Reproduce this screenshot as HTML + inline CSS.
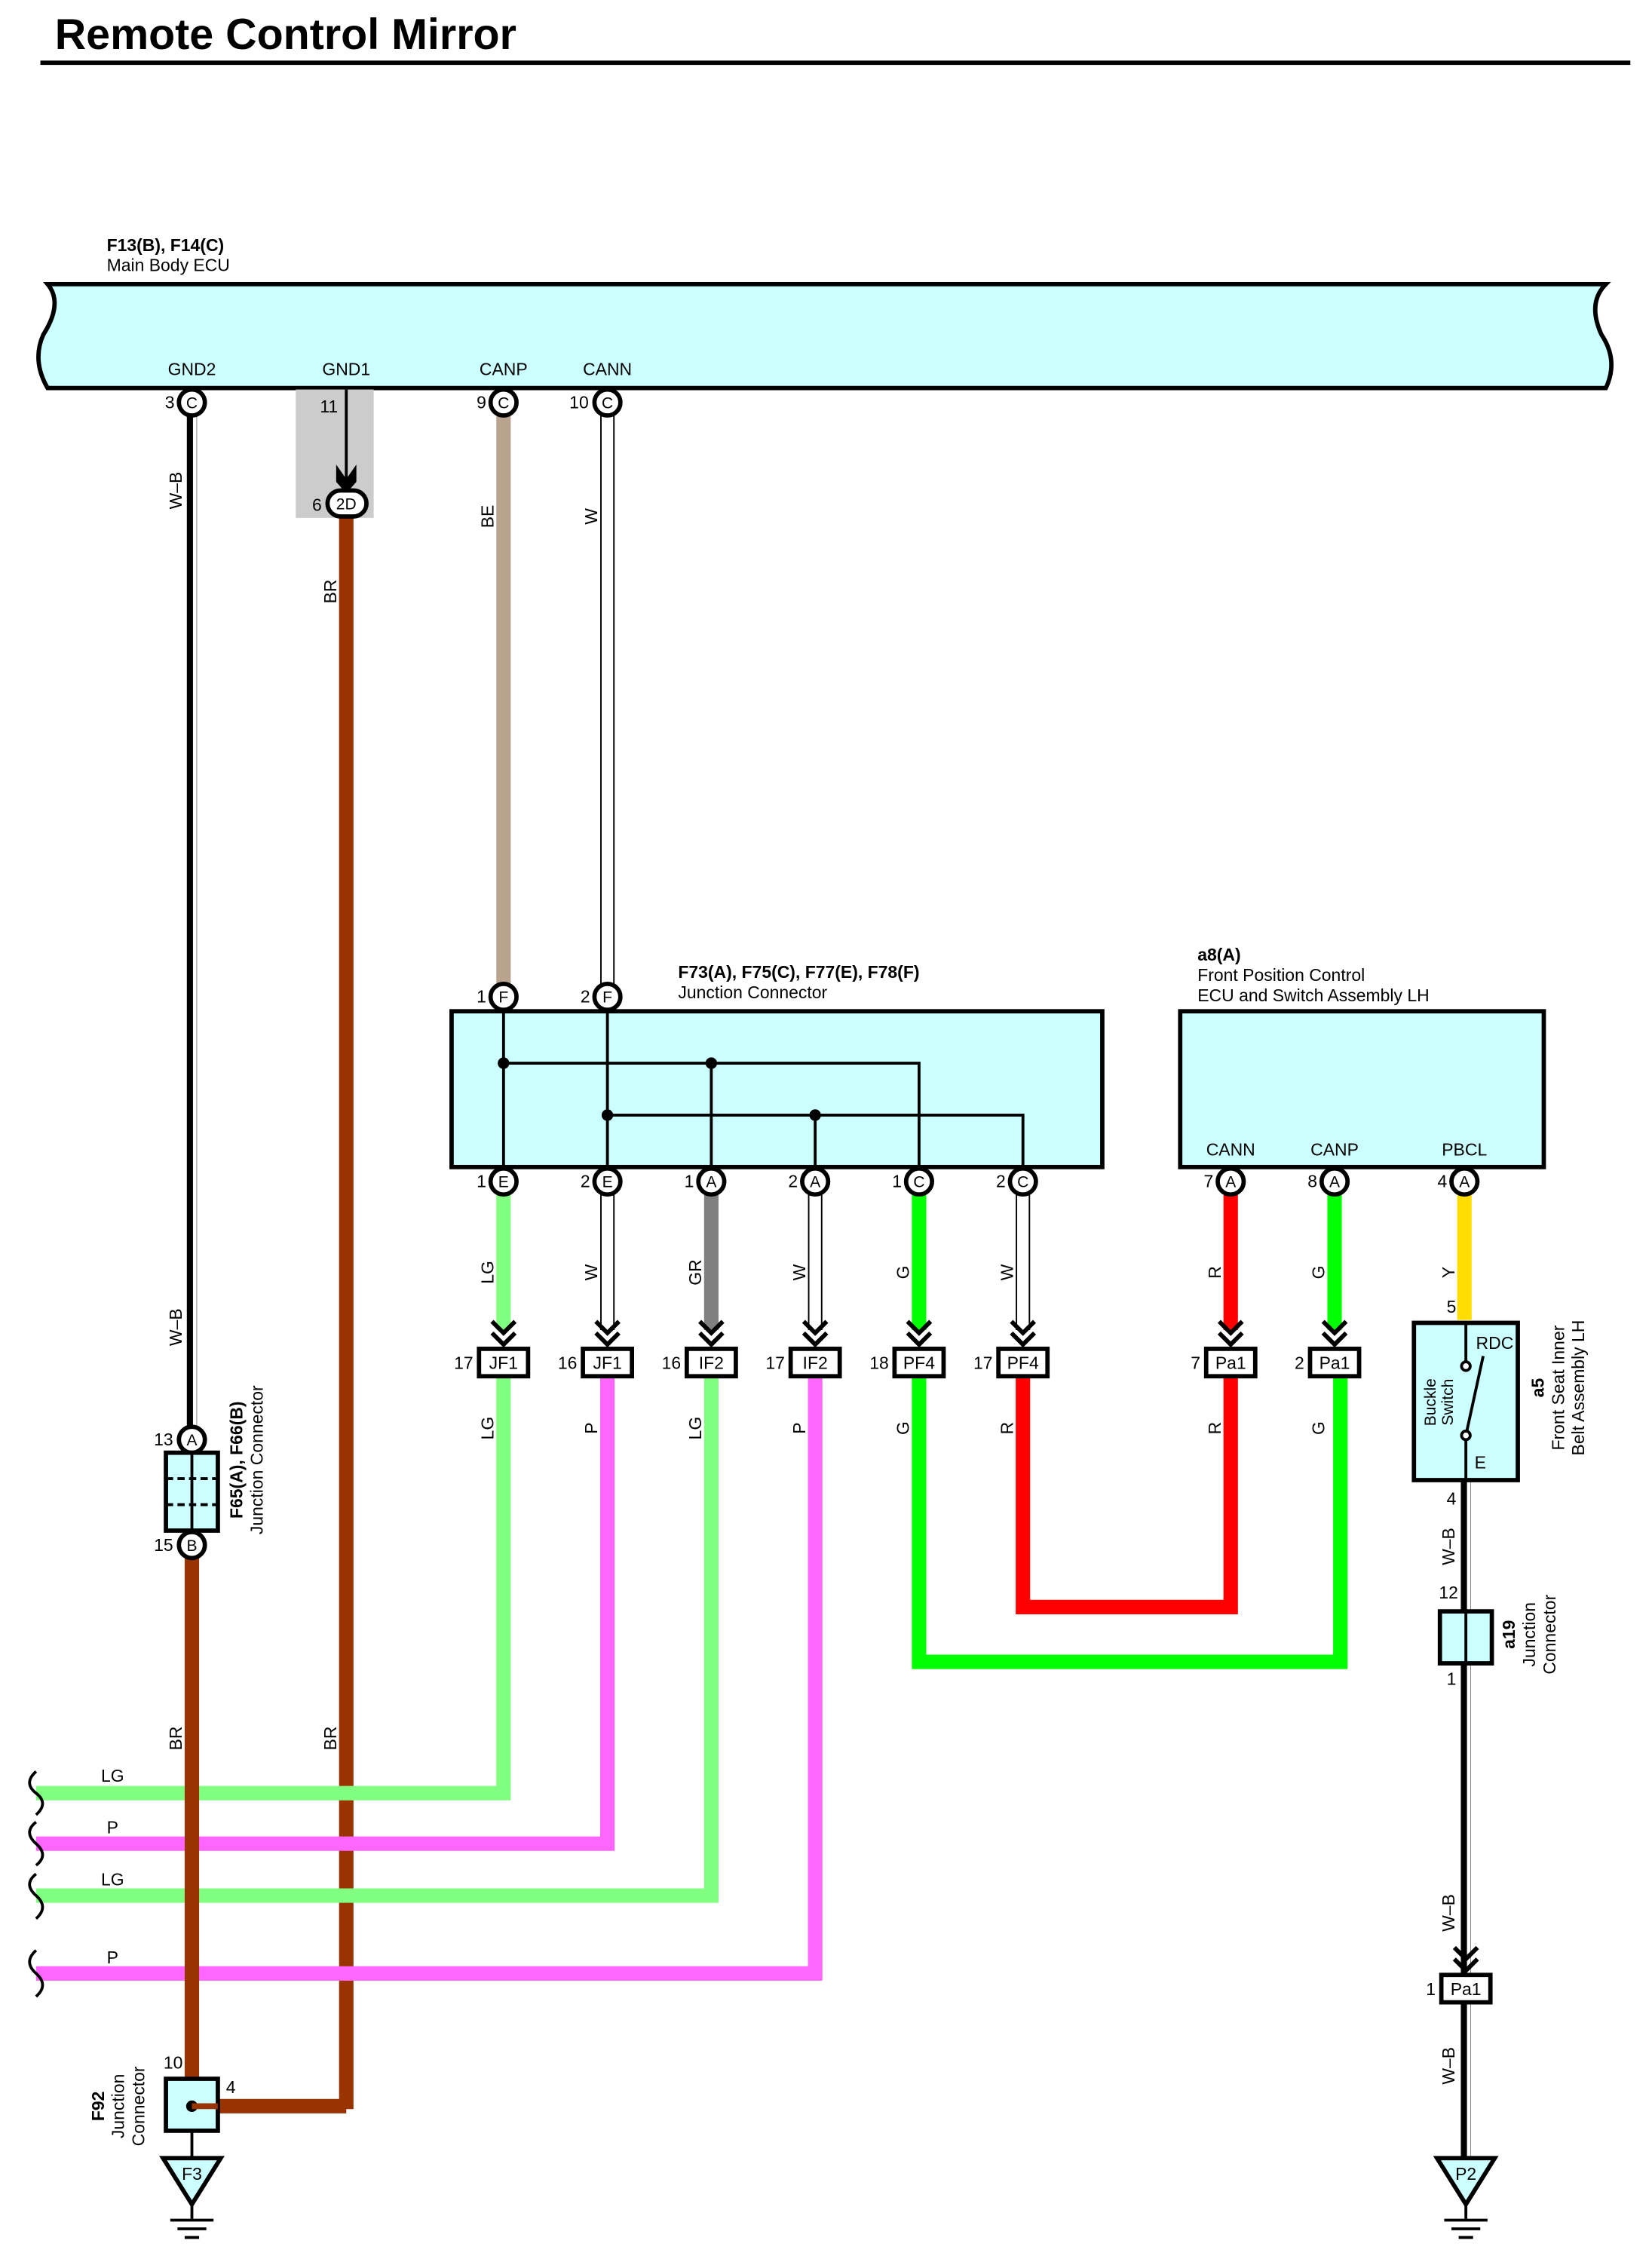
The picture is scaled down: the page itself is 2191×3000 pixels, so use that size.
<!DOCTYPE html>
<html><head><meta charset="utf-8"><style>html,body{margin:0;padding:0;background:#fff}svg{display:block}</style></head>
<body>
<svg width="2191" height="3000" viewBox="0 0 1145 1568" preserveAspectRatio="none" xmlns="http://www.w3.org/2000/svg" font-family="Liberation Sans, sans-serif">
<defs>
<g id="chev"><path d="M-8,-16 L0,-8 L8,-16 M-8,-8 L0,0 L8,-8" fill="none" stroke="#000" stroke-width="3"/></g>
</defs>
<text x="38" y="34" font-size="30" font-weight="bold">Remote Control Mirror</text>
<rect x="28" y="42" width="1102" height="3" fill="#000"/>

<text x="74" y="174" font-size="12" font-weight="bold">F13(B), F14(C)</text>
<text x="74" y="188" font-size="12">Main Body ECU</text>
<path d="M33,197 L1113,197 Q1100,210 1110,232 Q1122,250 1113,269 L33,269 Q22,250 30,232 Q44,210 33,197 Z" fill="#ccffff" stroke="#000" stroke-width="3"/>
<g font-size="12" text-anchor="middle"><text x="133" y="260">GND2</text><text x="240" y="260">GND1</text><text x="349" y="260">CANP</text><text x="421" y="260">CANN</text></g>
<rect x="205" y="270" width="54" height="89" fill="#cccccc"/>

<line x1="133" y1="288" x2="133" y2="990" stroke="#000" stroke-width="7"/>
<line x1="135" y1="288" x2="135" y2="990" stroke="#fff" stroke-width="2.5"/>
<line x1="240" y1="358" x2="240" y2="1462" stroke="#993300" stroke-width="10"/>
<polyline points="240,1460 133,1460" stroke="#993300" stroke-width="10"/>
<line x1="349" y1="288" x2="349" y2="683" stroke="#b8a48e" stroke-width="10"/>
<line x1="421" y1="288" x2="421" y2="683" stroke="#000" stroke-width="10"/>
<line x1="421" y1="288" x2="421" y2="683" stroke="#fff" stroke-width="8"/>
<line x1="240" y1="270" x2="240" y2="336" stroke="#000" stroke-width="2"/>
<path d="M233,322 L240,332 L247,322 L247,334 L240,342 L233,334 Z" fill="#000"/>
<text x="228" y="286" font-size="12" text-anchor="middle">11</text>
<g font-size="12"><g transform="translate(126,340) rotate(-90)"><text text-anchor="middle">W–B</text></g>
<g transform="translate(233,410) rotate(-90)"><text text-anchor="middle">BR</text></g>
<g transform="translate(342,358) rotate(-90)"><text text-anchor="middle">BE</text></g>
<g transform="translate(414,358) rotate(-90)"><text text-anchor="middle">W</text></g>
<g transform="translate(126,920) rotate(-90)"><text text-anchor="middle">W–B</text></g>
<g transform="translate(126,1205) rotate(-90)"><text text-anchor="middle">BR</text></g>
<g transform="translate(233,1205) rotate(-90)"><text text-anchor="middle">BR</text></g></g>

<g stroke="#000" stroke-width="3" fill="#fff">
<circle cx="133" cy="279" r="9"/><circle cx="349" cy="279" r="9"/><circle cx="421" cy="279" r="9"/>
<rect x="227" y="340" width="27" height="18" rx="9"/>
</g>
<g font-size="11" text-anchor="middle"><text x="133" y="283">C</text><text x="349" y="283">C</text><text x="421" y="283">C</text><text x="240" y="353">2D</text></g>
<g font-size="12" text-anchor="end"><text x="121" y="283">3</text><text x="337" y="283">9</text><text x="408" y="283">10</text><text x="223" y="354">6</text></g>

<text x="470" y="678" font-size="12" font-weight="bold">F73(A), F75(C), F77(E), F78(F)</text>
<text x="470" y="692" font-size="12">Junction Connector</text>
<rect x="313" y="701" width="451" height="108" fill="#ccffff" stroke="#000" stroke-width="3"/>
<g stroke="#000" stroke-width="2" fill="none">
<line x1="349" y1="701" x2="349" y2="809"/><line x1="421" y1="701" x2="421" y2="809"/>
<polyline points="349,737 637,737 637,809"/><line x1="493" y1="737" x2="493" y2="809"/>
<polyline points="421,773 709,773 709,809"/><line x1="565" y1="773" x2="565" y2="809"/>
</g>
<g fill="#000"><circle cx="349" cy="737" r="4"/><circle cx="493" cy="737" r="4"/><circle cx="421" cy="773" r="4"/><circle cx="565" cy="773" r="4"/></g>

<text x="830" y="666" font-size="12" font-weight="bold">a8(A)</text>
<text x="830" y="680" font-size="12">Front Position Control</text>
<text x="830" y="694" font-size="12">ECU and Switch Assembly LH</text>
<rect x="818" y="701" width="252" height="108" fill="#ccffff" stroke="#000" stroke-width="3"/>
<g font-size="12" text-anchor="middle"><text x="853" y="801">CANN</text><text x="925" y="801">CANP</text><text x="1015" y="801">PBCL</text></g>

<g stroke-width="10" fill="none">
<line x1="349" y1="828" x2="349" y2="922" stroke="#80ff80"/>
<line x1="493" y1="828" x2="493" y2="922" stroke="#808080"/>
<line x1="637" y1="828" x2="637" y2="922" stroke="#00ff00"/>
<line x1="853" y1="828" x2="853" y2="922" stroke="#ff0000"/>
<line x1="925" y1="828" x2="925" y2="922" stroke="#00ff00"/>
<line x1="1015" y1="828" x2="1015" y2="915" stroke="#ffdd00"/>
</g>
<g><line x1="421" y1="828" x2="421" y2="922" stroke="#000" stroke-width="10"/><line x1="421" y1="828" x2="421" y2="922" stroke="#fff" stroke-width="8"/>
<line x1="565" y1="828" x2="565" y2="922" stroke="#000" stroke-width="10"/><line x1="565" y1="828" x2="565" y2="922" stroke="#fff" stroke-width="8"/>
<line x1="709" y1="828" x2="709" y2="922" stroke="#000" stroke-width="10"/><line x1="709" y1="828" x2="709" y2="922" stroke="#fff" stroke-width="8"/></g>

<g stroke-width="10" fill="none" stroke-linejoin="miter">
<polyline points="349,954 349,1243 25,1243" stroke="#80ff80"/>
<polyline points="421,954 421,1278 25,1278" stroke="#ff66ff"/>
<polyline points="493,954 493,1314 25,1314" stroke="#80ff80"/>
<polyline points="565,954 565,1368 25,1368" stroke="#ff66ff"/>
<polyline points="637,954 637,1152 929,1152 929,954" stroke="#00ff00"/>
<polyline points="709,954 709,1114 853,1114 853,954" stroke="#ff0000"/>
<line x1="133" y1="1080" x2="133" y2="1462" stroke="#993300"/>
</g>
<g fill="none" stroke="#000" stroke-width="2">
<path d="M25,1228 Q16,1236 25,1243 Q34,1250 25,1258"/>
<path d="M25,1263 Q16,1270 25,1278 Q34,1286 25,1293"/>
<path d="M25,1299 Q16,1306 25,1314 Q34,1322 25,1330"/>
<path d="M25,1352 Q16,1360 25,1368 Q34,1376 25,1384"/>
</g>
<g font-size="12"><text x="70" y="1235">LG</text><text x="74" y="1271">P</text><text x="70" y="1307">LG</text><text x="74" y="1361">P</text></g>

<g font-size="12" text-anchor="middle">
<g transform="translate(342,882) rotate(-90)"><text>LG</text></g>
<g transform="translate(414,882) rotate(-90)"><text>W</text></g>
<g transform="translate(486,882) rotate(-90)"><text>GR</text></g>
<g transform="translate(558,882) rotate(-90)"><text>W</text></g>
<g transform="translate(630,882) rotate(-90)"><text>G</text></g>
<g transform="translate(702,882) rotate(-90)"><text>W</text></g>
<g transform="translate(846,882) rotate(-90)"><text>R</text></g>
<g transform="translate(918,882) rotate(-90)"><text>G</text></g>
<g transform="translate(1008,882) rotate(-90)"><text>Y</text></g>
<g transform="translate(342,990) rotate(-90)"><text>LG</text></g>
<g transform="translate(414,990) rotate(-90)"><text>P</text></g>
<g transform="translate(486,990) rotate(-90)"><text>LG</text></g>
<g transform="translate(558,990) rotate(-90)"><text>P</text></g>
<g transform="translate(630,990) rotate(-90)"><text>G</text></g>
<g transform="translate(702,990) rotate(-90)"><text>R</text></g>
<g transform="translate(846,990) rotate(-90)"><text>R</text></g>
<g transform="translate(918,990) rotate(-90)"><text>G</text></g>
<g transform="translate(1008,1072) rotate(-90)"><text>W–B</text></g>
<g transform="translate(1008,1326) rotate(-90)"><text>W–B</text></g>
<g transform="translate(1008,1432) rotate(-90)"><text>W–B</text></g>
</g>

<use href="#chev" x="349" y="932"/><use href="#chev" x="421" y="932"/><use href="#chev" x="493" y="932"/>
<use href="#chev" x="565" y="932"/><use href="#chev" x="637" y="932"/><use href="#chev" x="709" y="932"/>
<use href="#chev" x="853" y="932"/><use href="#chev" x="925" y="932"/>

<g stroke="#000" stroke-width="3" fill="#fff">
<rect x="332" y="935" width="34" height="19"/><rect x="404" y="935" width="34" height="19"/><rect x="476" y="935" width="34" height="19"/>
<rect x="548" y="935" width="34" height="19"/><rect x="620" y="935" width="34" height="19"/><rect x="692" y="935" width="34" height="19"/>
<rect x="836" y="935" width="34" height="19"/><rect x="908" y="935" width="34" height="19"/>
</g>
<g font-size="12" text-anchor="middle">
<text x="349" y="949">JF1</text><text x="421" y="949">JF1</text><text x="493" y="949">IF2</text><text x="565" y="949">IF2</text>
<text x="637" y="949">PF4</text><text x="709" y="949">PF4</text><text x="853" y="949">Pa1</text><text x="925" y="949">Pa1</text>
</g>
<g font-size="12" text-anchor="end">
<text x="328" y="949">17</text><text x="400" y="949">16</text><text x="472" y="949">16</text><text x="544" y="949">17</text>
<text x="616" y="949">18</text><text x="688" y="949">17</text><text x="832" y="949">7</text><text x="904" y="949">2</text><text x="995" y="1383">1</text>
</g>

<g stroke="#000" stroke-width="3" fill="#fff">
<circle cx="349" cy="691" r="9"/><circle cx="421" cy="691" r="9"/>
<circle cx="349" cy="819" r="9"/><circle cx="421" cy="819" r="9"/><circle cx="493" cy="819" r="9"/>
<circle cx="565" cy="819" r="9"/><circle cx="637" cy="819" r="9"/><circle cx="709" cy="819" r="9"/>
<circle cx="853" cy="819" r="9"/><circle cx="925" cy="819" r="9"/><circle cx="1015" cy="819" r="9"/>
<circle cx="133" cy="998" r="9"/><circle cx="133" cy="1071" r="9"/>
</g>
<g font-size="11" text-anchor="middle">
<text x="349" y="695">F</text><text x="421" y="695">F</text>
<text x="349" y="823">E</text><text x="421" y="823">E</text><text x="493" y="823">A</text><text x="565" y="823">A</text><text x="637" y="823">C</text><text x="709" y="823">C</text>
<text x="853" y="823">A</text><text x="925" y="823">A</text><text x="1015" y="823">A</text>
<text x="133" y="1002">A</text><text x="133" y="1075">B</text>
</g>
<g font-size="12" text-anchor="end">
<text x="337" y="695">1</text><text x="409" y="695">2</text>
<text x="337" y="823">1</text><text x="409" y="823">2</text><text x="481" y="823">1</text><text x="553" y="823">2</text><text x="625" y="823">1</text><text x="697" y="823">2</text>
<text x="841" y="823">7</text><text x="913" y="823">8</text><text x="1003" y="823">4</text>
<text x="120" y="1002">13</text><text x="120" y="1075">15</text>
</g>

<rect x="115" y="1007" width="36" height="54" fill="#ccffff" stroke="#000" stroke-width="3"/>
<g stroke="#000" stroke-width="2"><line x1="133" y1="1007" x2="133" y2="1061"/><line x1="115" y1="1025" x2="151" y2="1025" stroke-dasharray="5,3"/><line x1="115" y1="1043" x2="151" y2="1043" stroke-dasharray="5,3"/></g>
<g transform="translate(168,1012) rotate(-90)" font-size="12" text-anchor="middle"><text font-weight="bold">F65(A), F66(B)</text><text y="14">Junction Connector</text></g>

<rect x="115" y="1441" width="36" height="36" fill="#ccffff" stroke="#000" stroke-width="3"/>
<circle cx="133" cy="1460" r="4"/>
<line x1="133" y1="1460" x2="151" y2="1460" stroke="#993300" stroke-width="4"/>
<text x="120" y="1434" font-size="12" text-anchor="middle">10</text>
<text x="160" y="1451" font-size="12" text-anchor="middle">4</text>
<g transform="translate(72,1460) rotate(-90)" font-size="12" text-anchor="middle"><text font-weight="bold">F92</text><text y="14">Junction</text><text y="28">Connector</text></g>
<line x1="133" y1="1477" x2="133" y2="1496" stroke="#000" stroke-width="2"/>
<path d="M113,1496 L153,1496 L133,1528 Z" fill="#ccffff" stroke="#000" stroke-width="3"/>
<text x="133" y="1511" font-size="12" text-anchor="middle">F3</text>
<g stroke="#000" stroke-width="2"><line x1="133" y1="1528" x2="133" y2="1538"/><line x1="118" y1="1539" x2="148" y2="1539"/><line x1="123" y1="1545" x2="143" y2="1545"/><line x1="128" y1="1551" x2="138" y2="1551"/></g>

<line x1="1016" y1="1026" x2="1016" y2="1496" stroke="#000" stroke-width="7"/>
<line x1="1018" y1="1026" x2="1018" y2="1496" stroke="#fff" stroke-width="2.5"/>
<use href="#chev" x="1016" y="1366"/>
<rect x="999" y="1369" width="34" height="19" fill="#fff" stroke="#000" stroke-width="3"/>
<text x="1016" y="1383" font-size="12" text-anchor="middle">Pa1</text>

<rect x="980" y="917" width="72" height="109" fill="#ccffff" stroke="#000" stroke-width="3"/>
<text x="1006" y="910" font-size="12" text-anchor="middle">5</text>
<text x="1036" y="935" font-size="12" text-anchor="middle">RDC</text>
<text x="1026" y="1018" font-size="12" text-anchor="middle">E</text>
<g stroke="#000" stroke-width="2" fill="#fff"><line x1="1016" y1="917" x2="1016" y2="944"/><line x1="1016" y1="998" x2="1016" y2="1026"/><line x1="1016" y1="995" x2="1028" y2="940"/><circle cx="1016" cy="947" r="3"/><circle cx="1016" cy="995" r="3"/></g>
<g transform="translate(995,972) rotate(-90)" font-size="11" text-anchor="middle"><text>Buckle</text><text y="12">Switch</text></g>
<g transform="translate(1070,962) rotate(-90)" font-size="12" text-anchor="middle"><text font-weight="bold">a5</text><text y="14">Front Seat Inner</text><text y="28">Belt Assembly LH</text></g>
<text x="1006" y="1043" font-size="12" text-anchor="middle">4</text>
<text x="1004" y="1108" font-size="12" text-anchor="middle">12</text>
<rect x="998" y="1117" width="36" height="36" fill="#ccffff" stroke="#000" stroke-width="3"/>
<line x1="1016" y1="1117" x2="1016" y2="1153" stroke="#000" stroke-width="2"/>
<text x="1006" y="1168" font-size="12" text-anchor="middle">1</text>
<g transform="translate(1050,1133) rotate(-90)" font-size="12" text-anchor="middle"><text font-weight="bold">a19</text><text y="14">Junction</text><text y="28">Connector</text></g>
<path d="M996,1496 L1036,1496 L1016,1528 Z" fill="#ccffff" stroke="#000" stroke-width="3"/>
<text x="1016" y="1511" font-size="12" text-anchor="middle">P2</text>
<g stroke="#000" stroke-width="2"><line x1="1016" y1="1528" x2="1016" y2="1538"/><line x1="1001" y1="1539" x2="1031" y2="1539"/><line x1="1006" y1="1545" x2="1026" y2="1545"/><line x1="1011" y1="1551" x2="1021" y2="1551"/></g>
</svg>
</body></html>
